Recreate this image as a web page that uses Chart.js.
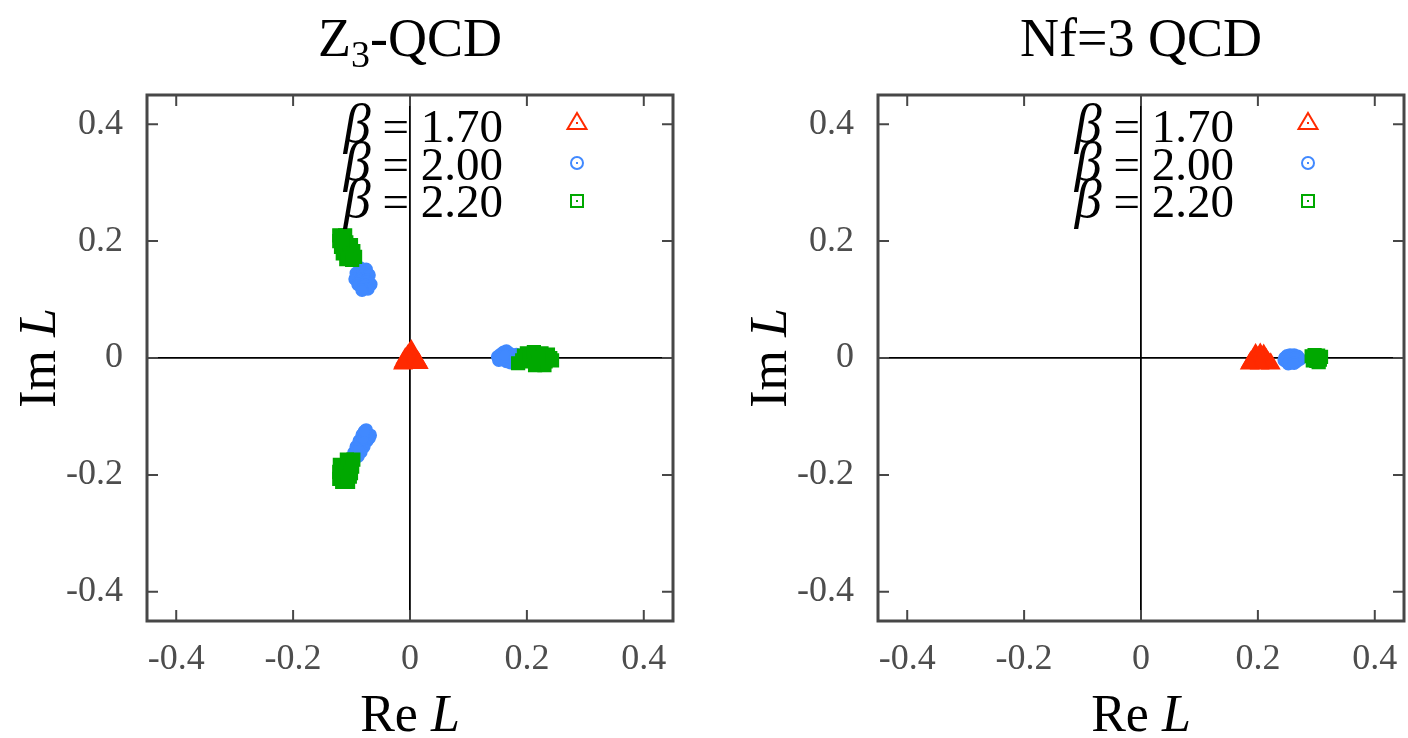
<!DOCTYPE html>
<html>
<head>
<meta charset="utf-8">
<script src="https://cdn.jsdelivr.net/npm/chart.js@4.4.0/dist/chart.umd.min.js"></script>
<style>
  html, body { margin: 0; background: #fff; overflow: hidden; }
  #wrap { position: relative; width: 1408px; height: 738px; overflow: hidden; }
  canvas { position: absolute; top: 0; }
  #z3 { left: 0; }
  #nf3 { left: 704px; }
</style>
</head>
<body>
<div id="wrap">
  <canvas id="z3" width="704" height="738"></canvas>
  <canvas id="nf3" width="760" height="738"></canvas>
</div>
<script>
var tickValues = [-0.4, -0.2, 0, 0.2, 0.4];
var axisMin = -0.45, axisMax = 0.45;
var betaLabels = ['1.70', '2.00', '2.20'];
var betaColors = ['#ff2a00', '#4189ff', '#00a800'];
var betaStyles = ['triangle', 'circle', 'rect'];
var betaRadius = [10, 6, 9];

// Z3-QCD, [Re L, Im L]
var z3Beta170 = [
  [0.002, 0.013], [0.000, 0.008], [0.004, 0.007], [-0.004, 0.004], [0.006, 0.003],
  [0.000, 0.002], [-0.008, -0.001], [0.009, -0.002], [0.003, -0.003], [-0.003, -0.005],
  [-0.011, -0.007], [0.013, -0.006], [0.007, -0.008], [-0.006, -0.009], [0.001, -0.009],
  [0.015, -0.009], [-0.012, -0.010]
];
var z3Beta200 = [
  // real sector
  [0.150, 0.002], [0.155, 0.006], [0.160, 0.010], [0.165, 0.012], [0.170, 0.008],
  [0.158, -0.002], [0.165, -0.006], [0.172, -0.008], [0.178, -0.004], [0.175, 0.004],
  [0.182, 0.006], [0.185, -0.002], [0.190, 0.002], [0.168, 0.002], [0.152, -0.004],
  [0.162, 0.004],
  // upper sector
  [-0.085, 0.154], [-0.075, 0.152], [-0.092, 0.145], [-0.080, 0.145], [-0.070, 0.142],
  [-0.094, 0.135], [-0.084, 0.135], [-0.074, 0.133], [-0.067, 0.126], [-0.089, 0.126],
  [-0.079, 0.125], [-0.072, 0.118], [-0.082, 0.116],
  // lower sector
  [-0.075, -0.123], [-0.068, -0.132], [-0.082, -0.132], [-0.074, -0.142], [-0.087, -0.142],
  [-0.079, -0.152], [-0.092, -0.152], [-0.084, -0.161], [-0.096, -0.162], [-0.070, -0.137],
  [-0.089, -0.168], [-0.080, -0.138], [-0.078, -0.126], [-0.090, -0.158]
];
var z3Beta220 = [
  // real sector
  [0.185, -0.009], [0.192, -0.004], [0.195, 0.004], [0.200, 0.008], [0.205, 0.002],
  [0.208, -0.006], [0.212, 0.010], [0.216, 0.004], [0.218, -0.004], [0.222, -0.010],
  [0.225, 0.008], [0.228, 0.002], [0.232, -0.006], [0.236, 0.006], [0.240, 0.000],
  [0.243, -0.004], [0.230, -0.012], [0.214, -0.012], [0.220, 0.000],
  // upper sector
  [-0.121, 0.210], [-0.111, 0.210], [-0.121, 0.200], [-0.109, 0.198], [-0.101, 0.193],
  [-0.118, 0.190], [-0.108, 0.186], [-0.097, 0.183], [-0.115, 0.179], [-0.104, 0.176],
  [-0.094, 0.173], [-0.109, 0.169], [-0.099, 0.168], [-0.116, 0.203],
  // lower sector
  [-0.108, -0.174], [-0.097, -0.174], [-0.120, -0.183], [-0.109, -0.185], [-0.099, -0.186],
  [-0.121, -0.195], [-0.111, -0.195], [-0.101, -0.197], [-0.121, -0.207], [-0.111, -0.209],
  [-0.103, -0.203], [-0.116, -0.212], [-0.106, -0.212]
];

// Nf=3 QCD
var nf3Beta170 = [
  [0.196, 0.006], [0.204, 0.007], [0.210, 0.005], [0.198, 0.002], [0.206, 0.001],
  [0.192, -0.002], [0.214, -0.002], [0.200, -0.004], [0.188, -0.007], [0.208, -0.006],
  [0.196, -0.009], [0.218, -0.008], [0.222, -0.010], [0.203, -0.010], [0.186, -0.010]
];
var nf3Beta200 = [
  [0.246, 0.000], [0.250, 0.004], [0.255, 0.005], [0.262, 0.005], [0.268, 0.003],
  [0.272, -0.002], [0.266, -0.006], [0.258, -0.008], [0.250, -0.007], [0.245, -0.004],
  [0.256, -0.002], [0.264, 0.000], [0.252, -0.010], [0.262, -0.009]
];
var nf3Beta220 = [
  [0.292, 0.003], [0.297, 0.005], [0.303, 0.004], [0.308, 0.002], [0.306, -0.003],
  [0.300, -0.005], [0.294, -0.004], [0.300, 0.000], [0.304, -0.007], [0.296, -0.001]
];

var FONT = '"Liberation Serif", "Times New Roman", serif';

function drawPieces(ctx, pieces, x, y, align) {
  var total = 0;
  pieces.forEach(function(p) {
    ctx.font = (p.italic ? 'italic ' : '') + p.size + 'px ' + FONT;
    p.w = ctx.measureText(p.text).width;
    total += p.w;
  });
  var cx = align == 'right' ? x - total : x - total / 2;
  pieces.forEach(function(p) {
    ctx.font = (p.italic ? 'italic ' : '') + p.size + 'px ' + FONT;
    ctx.fillText(p.text, cx, y + (p.dy || 0));
    cx += p.w;
  });
}

function drawSymbol(ctx, style, color, x, y) {
  ctx.save();
  ctx.strokeStyle = color;
  ctx.fillStyle = color;
  ctx.lineWidth = 2;
  ctx.beginPath();
  if (style == 'triangle') {
    ctx.moveTo(x, y - 10);
    ctx.lineTo(x + 9.5, y + 6);
    ctx.lineTo(x - 9.5, y + 6);
    ctx.closePath();
  } else if (style == 'circle') {
    ctx.arc(x, y, 6, 0, Math.PI * 2);
  } else {
    ctx.rect(x - 6, y - 6, 12, 12);
  }
  ctx.stroke();
  ctx.fillRect(x - 1, y - 1, 2, 2);
  ctx.restore();
}

var framePlugin = {
  id: 'frame',
  afterDraw: function(chart, args, opts) {
    var ctx = chart.ctx;
    var a = chart.chartArea;
    var xs = chart.scales.x, ys = chart.scales.y;
    var midX = (a.left + a.right) / 2, midY = (a.top + a.bottom) / 2;
    ctx.save();
    // inward ticks on all four sides
    ctx.strokeStyle = '#474747';
    ctx.lineWidth = 2;
    tickValues.forEach(function(v) {
      var px = xs.getPixelForValue(v), py = ys.getPixelForValue(v);
      ctx.beginPath();
      ctx.moveTo(px, a.bottom); ctx.lineTo(px, a.bottom - 11);
      ctx.moveTo(px, a.top); ctx.lineTo(px, a.top + 11);
      ctx.moveTo(a.left, py); ctx.lineTo(a.left + 11, py);
      ctx.moveTo(a.right, py); ctx.lineTo(a.right - 11, py);
      ctx.stroke();
    });
    ctx.lineWidth = 3;
    ctx.strokeRect(a.left, a.top, a.right - a.left, a.bottom - a.top);

    ctx.fillStyle = '#000';
    ctx.textBaseline = 'alphabetic';
    // title
    drawPieces(ctx, opts.title, midX, 56, 'center');
    // axis titles
    drawPieces(ctx, [{text: 'Re ', size: 52}, {text: 'L', size: 52, italic: true}], midX, 731, 'center');
    ctx.save();
    ctx.translate(a.left - 92, midY);
    ctx.rotate(-Math.PI / 2);
    drawPieces(ctx, [{text: 'Im ', size: 52}, {text: 'L', size: 52, italic: true}], 0, 0, 'center');
    ctx.restore();
    // key
    var rowBase = [47, 85, 122];
    var rowSym = [28, 68, 106];
    betaLabels.forEach(function(lab, i) {
      drawPieces(ctx, [{text: '\u03b2', size: 54, italic: true}, {text: ' = ' + lab, size: 47}],
        a.right - 170, a.top + rowBase[i], 'right');
      drawSymbol(ctx, betaStyles[i], betaColors[i], a.right - 96, a.top + rowSym[i]);
    });
    ctx.restore();
  }
};

function axisOptions(size, isX) {
  return {
    type: 'linear',
    min: axisMin,
    max: axisMax,
    afterBuildTicks: function(s) {
      s.ticks = tickValues.map(function(v) { return {value: v}; });
    },
    afterFit: function(s) {
      if (isX) s.height = size; else s.width = size;
      s.paddingLeft = s.paddingRight = s.paddingTop = s.paddingBottom = 0;
    },
    grid: {
      drawTicks: false,
      lineWidth: 1.8,
      color: function(c) { return c.tick && c.tick.value === 0 ? '#000' : 'rgba(0,0,0,0)'; }
    },
    border: { display: false },
    ticks: {
      padding: isX ? 17 : 24,
      color: '#4d4d4d',
      autoSkip: false,
      maxRotation: 0,
      font: { size: 36, family: FONT },
      callback: function(v) { return v === 0 ? '0' : v.toFixed(1); }
    }
  };
}

function makeChart(id, title, sets, yWidth, padRight) {
  return new Chart(document.getElementById(id), {
    type: 'scatter',
    data: {
      datasets: sets.map(function(pts, i) {
        return {
          label: '\u03b2 = ' + betaLabels[i],
          data: pts.map(function(p) { return {x: p[0], y: p[1]}; }),
          pointStyle: betaStyles[i],
          pointRadius: betaRadius[i],
          backgroundColor: betaColors[i],
          borderColor: betaColors[i],
          borderWidth: 1.5,
          order: 3 - i
        };
      })
    },
    options: {
      responsive: false,
      animation: false,
      devicePixelRatio: 1,
      events: [],
      layout: { padding: { left: 0, right: padRight, top: 95, bottom: 0 } },
      plugins: {
        legend: { display: false },
        tooltip: { enabled: false },
        frame: { title: title }
      },
      scales: {
        x: axisOptions(117, true),
        y: axisOptions(yWidth, false)
      }
    },
    plugins: [framePlugin]
  });
}

makeChart('z3',
  [{text: 'Z', size: 54}, {text: '3', size: 38, dy: 11}, {text: '-QCD', size: 54}],
  [z3Beta170, z3Beta200, z3Beta220], 147, 31);
// wider canvas, clipped by #wrap, so the right frame can sit near the page edge
makeChart('nf3',
  [{text: 'Nf=3 QCD', size: 54}],
  [nf3Beta170, nf3Beta200, nf3Beta220], 174, 60);
</script>
</body>
</html>
